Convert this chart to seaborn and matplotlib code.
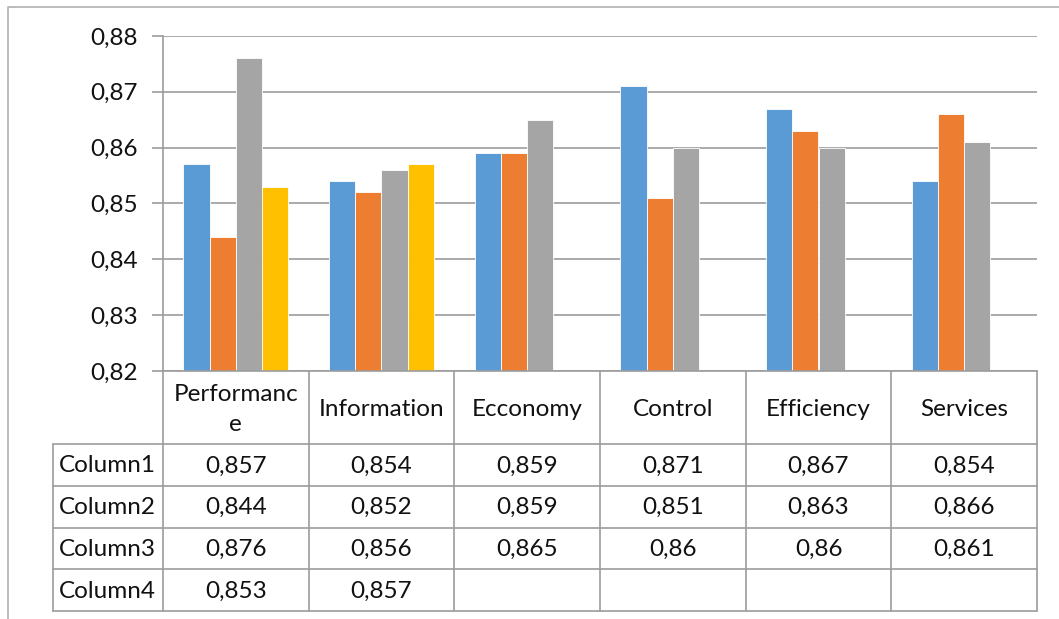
import numpy as np
import pandas as pd
import matplotlib
matplotlib.use("Agg")
import matplotlib.pyplot as plt
import matplotlib.transforms as mtransforms
from matplotlib.lines import Line2D
import seaborn as sns

categories = ["Performance", "Information", "Ecconomy", "Control", "Efficiency", "Services"]
series_names = ["Column1", "Column2", "Column3", "Column4"]
column1 = [0.857, 0.854, 0.859, 0.871, 0.867, 0.854]
column2 = [0.844, 0.852, 0.859, 0.851, 0.863, 0.866]
column3 = [0.876, 0.856, 0.865, 0.860, 0.860, 0.861]
column4 = [0.853, 0.857, np.nan, np.nan, np.nan, np.nan]
y_ticks = [0.82, 0.83, 0.84, 0.85, 0.86, 0.87, 0.88]
colors = ["#5B9BD5", "#ED7D31", "#A5A5A5", "#FFC000"]

series_values = [column1, column2, column3, column4]
rows = []
for name, vals in zip(series_names, series_values):
    for cat, v in zip(categories, vals):
        rows.append({"category": cat, "series": name, "value": v})
df = pd.DataFrame(rows)

sns.set_theme(style="white")
plt.rcParams["font.family"] = ["Lato", "DejaVu Sans"]
FS = 17.5
TXT = "#111111"
GRID = "#9c9c9c"

W, H = 1059, 619
fig = plt.figure(figsize=(W / 100, H / 100), dpi=100)
ax = fig.add_axes([163 / W, 1 - 371 / H, (1037 - 163) / W, (371 - 36) / H])

sns.barplot(data=df.dropna(), x="category", y="value", hue="series",
            order=categories, hue_order=series_names, palette=colors,
            width=0.72, gap=0, dodge=True, saturation=1, ax=ax,
            edgecolor="white", linewidth=0.6, legend=False)

ax.set_ylim(0.82, 0.88)
ax.set_xlim(-0.5, len(categories) - 0.5)
ax.set_yticks(y_ticks)
ax.set_yticklabels([f"{t:.2f}".replace(".", ",") for t in y_ticks], fontsize=FS, color=TXT)
ax.yaxis.grid(True, color=GRID, linewidth=1.2)
ax.set_axisbelow(True)
ax.tick_params(axis="y", length=8, width=1.2, color=GRID, pad=10, left=True)
ax.tick_params(axis="x", bottom=False, labelbottom=False)
ax.set_xlabel("")
ax.set_ylabel("")
for side in ["top", "right"]:
    ax.spines[side].set_visible(False)
for side in ["left", "bottom"]:
    ax.spines[side].set_color(GRID)
    ax.spines[side].set_linewidth(1.2)

# Data table under the plot: x in category units, y in axes fraction
tr = mtransforms.blended_transform_factory(ax.transData, ax.transAxes)
plot_h = 371 - 36
cell_w_px = (1037 - 163) / len(categories)
header_bottom = -(444 - 371) / plot_h
row_h = (611 - 444) / 4 / plot_h
label_left = -0.5 - (163 - 53) / cell_w_px
table_bottom = header_bottom - 4 * row_h
n = len(categories)

def hline(x0, x1, y):
    ax.add_line(Line2D([x0, x1], [y, y], transform=tr, color=GRID, lw=1.2, clip_on=False))

def vline(x, y0, y1):
    ax.add_line(Line2D([x, x], [y0, y1], transform=tr, color=GRID, lw=1.2, clip_on=False))

for k in range(n + 1):
    vline(k - 0.5, 0, table_bottom)
vline(label_left, header_bottom, table_bottom)
for r in range(5):
    hline(label_left, n - 0.5, header_bottom - r * row_h)

renderer = fig.canvas.get_renderer()
max_text_px = cell_w_px - 16

def fit_header(t):
    # break a category name onto a second line when it is wider than its cell
    full = t.get_text()
    if t.get_window_extent(renderer).width <= max_text_px:
        return
    for cut in range(len(full) - 1, 0, -1):
        t.set_text(full[:cut])
        if t.get_window_extent(renderer).width <= max_text_px:
            t.set_text(full[:cut] + "\n" + full[cut:])
            return
    t.set_text(full)

header_mid = header_bottom / 2 - 2 / plot_h
for i, cat in enumerate(categories):
    t = ax.text(i, header_mid, cat, transform=tr, ha="center", va="center",
                fontsize=FS, color=TXT, linespacing=1.5)
    fit_header(t)

for r, (name, vals) in enumerate(zip(series_names, series_values)):
    yc = header_bottom - (r + 0.5) * row_h - 1 / plot_h
    ax.text(label_left + 6 / cell_w_px, yc, name, transform=tr, ha="left", va="center",
            fontsize=FS, color=TXT)
    for i, v in enumerate(vals):
        if np.isnan(v):
            continue
        ax.text(i, yc, f"{v:g}".replace(".", ","), transform=tr, ha="center", va="center",
                fontsize=FS, color=TXT)

# Chart area border
fig.add_artist(Line2D([8 / W, 8 / W, 1.0], [0.0, 1 - 7 / H, 1 - 7 / H],
                      transform=fig.transFigure, color="#b0b0b0", lw=1.2))

fig.savefig("out.png", dpi=100, facecolor="white")
